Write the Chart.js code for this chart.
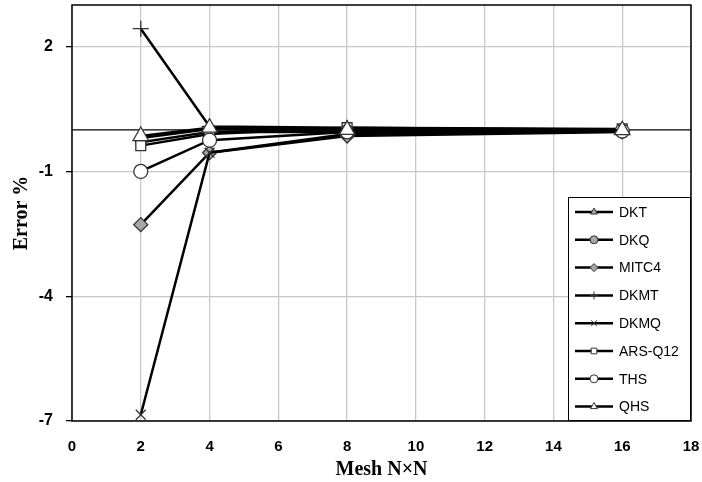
<!DOCTYPE html>
<html>
<head>
<meta charset="utf-8">
<script src="https://cdn.jsdelivr.net/npm/chart.js@4.4.1/dist/chart.umd.min.js"></script>
<style>
  body { margin: 0; background: #fff; }
  #wrap { width: 702px; height: 482px; position: relative; }
</style>
</head>
<body>
<div id="wrap"><canvas id="errChart"></canvas></div>
<script>
// mesh sizes N (x) and error % for each element
const meshN = [2, 4, 8, 16];
const xTicks = [0, 2, 4, 6, 8, 10, 12, 14, 16, 18];
const yTicks = [-7, -4, -1, 2];

const dkt    = [-0.20,  0.02, -0.05, -0.02];
const dkq    = [-0.30, -0.05, -0.05, -0.02];
const mitc4  = [-2.28, -0.55, -0.15, -0.05];
const dkmt   = [ 2.43,  0.08,  0.05,  0.00];
const dkmq   = [-6.85, -0.55, -0.10, -0.03];
const arsQ12 = [-0.38, -0.10,  0.05,  0.02];
const ths    = [-1.00, -0.25, -0.05, -0.03];
const qhs    = [-0.15,  0.05,  0.00, -0.01];

const seriesNames = ['DKT', 'DKQ', 'MITC4', 'DKMT', 'DKMQ', 'ARS-Q12', 'THS', 'QHS'];
const seriesValues = [dkt, dkq, mitc4, dkmt, dkmq, arsQ12, ths, qhs];

// marker look per series
const markers = [
    { style: 'triangle', fill: '#a6a6a6', radius: 6 },
    { style: 'circle',   fill: '#a6a6a6', radius: 5 },
    { style: 'rectRot',  fill: '#a6a6a6', radius: 7 },
    { style: 'cross',    fill: '#000',    radius: 8 },
    { style: 'crossRot', fill: '#000',    radius: 7 },
    { style: 'rect',     fill: '#fff',    radius: 7 },
    { style: 'circle',   fill: '#fff',    radius: 7 },
    { style: 'triangle', fill: '#fff',    radius: 9 }
];

const datasets = seriesNames.map((name, i) => ({
    label: name,
    data: meshN.map((n, k) => ({ x: n, y: seriesValues[i][k] })),
    borderColor: '#000',
    borderWidth: 2.5,
    pointStyle: markers[i].style,
    pointRadius: markers[i].radius,
    pointBackgroundColor: markers[i].fill,
    pointBorderColor: '#333',
    pointBorderWidth: 1.3,
    order: seriesNames.length - i
}));

// zero line + frame
const framePlugin = {
    id: 'frame',
    beforeDatasetsDraw(chart) {
        const { ctx, chartArea, scales } = chart;
        const y0 = scales.y.getPixelForValue(0);
        ctx.save();
        ctx.strokeStyle = '#000';
        ctx.lineWidth = 1.3;
        ctx.beginPath();
        ctx.moveTo(chartArea.left, y0);
        ctx.lineTo(chartArea.right, y0);
        ctx.stroke();
        ctx.lineWidth = 1.5;
        ctx.strokeRect(chartArea.left, chartArea.top, chartArea.right - chartArea.left, chartArea.bottom - chartArea.top);
        ctx.restore();
    }
};

// legend box at bottom-right of plot
const legendPlugin = {
    id: 'boxLegend',
    afterDatasetsDraw(chart) {
        const { ctx, chartArea } = chart;
        const w = 123, h = 224;
        const left = chartArea.right - w, top = chartArea.bottom - h;
        ctx.save();
        ctx.fillStyle = '#fff';
        ctx.fillRect(left, top, w, h);
        ctx.strokeStyle = '#000';
        ctx.lineWidth = 1;
        ctx.strokeRect(left + 0.5, top + 0.5, w - 1, h - 1);
        ctx.font = '14px "Liberation Sans", Arial, sans-serif';
        ctx.textBaseline = 'middle';
        seriesNames.forEach((name, i) => {
            const y = top + 15 + i * 27.8;
            ctx.strokeStyle = '#000';
            ctx.lineWidth = 2.5;
            ctx.beginPath();
            ctx.moveTo(left + 7, y);
            ctx.lineTo(left + 45, y);
            ctx.stroke();
            ctx.fillStyle = markers[i].fill;
            ctx.strokeStyle = '#333';
            ctx.lineWidth = 1;
            Chart.helpers.drawPoint(ctx, {
                pointStyle: markers[i].style,
                radius: 4,
                rotation: 0,
                borderWidth: 1
            }, left + 26, y);
            ctx.fillStyle = '#000';
            ctx.fillText(name, left + 51, y + 1);
        });
        ctx.restore();
    }
};

const ctxErr = document.getElementById('errChart').getContext('2d');
const errChart = new Chart(ctxErr, {
    type: 'line',
    data: { datasets: datasets },
    options: {
        responsive: true,
        maintainAspectRatio: false,
        animation: false,
        layout: { autoPadding: false, padding: { left: 6, right: 11, top: 5, bottom: 0 } },
        plugins: {
            legend: { display: false },
            tooltip: { enabled: false }
        },
        scales: {
            x: {
                type: 'linear',
                min: 0,
                max: 18,
                afterBuildTicks(scale) { scale.ticks = xTicks.map(v => ({ value: v })); },
                afterFit(scale) {
                    scale.height = 61;
                    scale.paddingLeft = 0;
                    scale.paddingRight = 0;
                },
                grid: { color: '#c8c8c8', lineWidth: 1.3, drawTicks: false },
                border: { display: false },
                ticks: {
                    color: '#000',
                    padding: 17,
                    maxRotation: 0,
                    font: { family: '"Liberation Sans", Arial, sans-serif', size: 15, weight: 'bold' }
                },
                title: {
                    display: true,
                    text: 'Mesh N×N',
                    color: '#000',
                    padding: { top: 0, bottom: 0 },
                    font: { family: '"Liberation Serif", "Times New Roman", serif', size: 20, weight: 'bold' }
                }
            },
            y: {
                type: 'linear',
                min: -7,
                max: 3,
                afterBuildTicks(scale) { scale.ticks = yTicks.map(v => ({ value: v })); },
                afterFit(scale) {
                    scale.width = 66;
                    scale.paddingTop = 0;
                    scale.paddingBottom = 0;
                },
                grid: { color: '#c8c8c8', lineWidth: 1.3, tickColor: '#000', tickLength: 6 },
                border: { display: false },
                ticks: {
                    color: '#000',
                    padding: 13,
                    font: { family: '"Liberation Sans", Arial, sans-serif', size: 16, weight: 'bold' }
                },
                title: {
                    display: true,
                    text: 'Error %',
                    color: '#000',
                    padding: { top: 4, bottom: 0 },
                    font: { family: '"Liberation Serif", "Times New Roman", serif', size: 20, weight: 'bold' }
                }
            }
        }
    },
    plugins: [framePlugin, legendPlugin]
});
</script>
</body>
</html>
